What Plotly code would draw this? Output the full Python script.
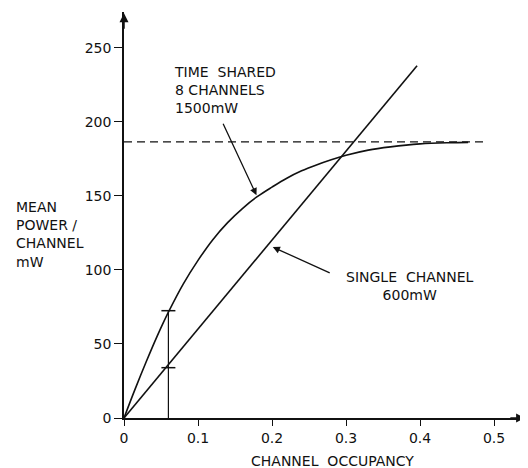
import plotly.graph_objects as go

# ---- data ----
occupancy_shared = [0, 0.015, 0.03, 0.045, 0.06, 0.08, 0.1, 0.12, 0.14, 0.16, 0.18,
                    0.2, 0.22, 0.24, 0.26, 0.28, 0.3, 0.33, 0.36, 0.4, 0.44, 0.465]
power_shared = [0, 19.5, 38, 55.5, 71.5, 90.5, 106.5, 120.5, 132, 141.5, 149.5,
                156, 162, 167, 171, 174.5, 177.5, 181, 183.2, 185.2, 186, 186.2]

occupancy_single = [0, 0.396]
power_single = [0, 238]

saturation_x = [0, 0.488]
saturation_y = [186.5, 186.5]

marker_occupancy = [0.06, 0.06]
marker_power = [72.5, 34]

x_tickvals = [0, 0.1, 0.2, 0.3, 0.4, 0.5]
x_ticktext = ["0", "0.1", "0.2", "0.3", "0.4", "0.5"]
y_tickvals = [0, 50, 100, 150, 200, 250]
y_ticktext = ["0", "50", "100", "150", "200", "250"]

FONT = "DejaVu Sans"
BLACK = "#111111"

fig = go.Figure()

fig.add_trace(go.Scatter(x=saturation_x, y=saturation_y, mode="lines",
                         line=dict(color=BLACK, width=1.2, dash="8px,5px"),
                         hoverinfo="skip"))
fig.add_trace(go.Scatter(x=occupancy_shared, y=power_shared, mode="lines",
                         line=dict(color=BLACK, width=1.6, shape="spline", smoothing=1),
                         hoverinfo="skip"))
fig.add_trace(go.Scatter(x=occupancy_single, y=power_single, mode="lines",
                         line=dict(color=BLACK, width=1.6), hoverinfo="skip"))
fig.add_trace(go.Scatter(x=[marker_occupancy[0], marker_occupancy[0]], y=[0, marker_power[0]],
                         mode="lines", line=dict(color=BLACK, width=1.2), hoverinfo="skip"))
fig.add_trace(go.Scatter(x=marker_occupancy, y=marker_power, mode="markers",
                         marker=dict(symbol="line-ew-open", size=10, color=BLACK,
                                     line=dict(color=BLACK, width=1.5)),
                         hoverinfo="skip"))

annotations = [
    dict(x=0.0649, y=221.6, xref="x", yref="y", xanchor="left", yanchor="middle",
         align="left", showarrow=False,
         text="TIME  SHARED<br>8 CHANNELS<br>1500mW"),
    dict(x=0.179, y=150.5, ax=0.133, ay=199.8, xref="x", yref="y", axref="x", ayref="y",
         showarrow=True, arrowhead=2, arrowsize=1.1, arrowwidth=1.3, arrowcolor=BLACK, text=""),
    dict(x=0.3865, y=89.5, xref="x", yref="y", xanchor="center", yanchor="middle",
         align="center", showarrow=False, text="SINGLE  CHANNEL<br>600mW"),
    dict(x=0.201, y=115.5, ax=0.28, ay=97.6, xref="x", yref="y", axref="x", ayref="y",
         showarrow=True, arrowhead=2, arrowsize=1.1, arrowwidth=1.3, arrowcolor=BLACK, text=""),
    dict(x=-0.2723, y=0.4532, xref="paper", yref="paper", xanchor="left", yanchor="middle",
         align="left", showarrow=False, text="MEAN<br>POWER /<br>CHANNEL<br>mW"),
    dict(x=0.5173, y=-0.1071, xref="paper", yref="paper", xanchor="center", yanchor="middle",
         showarrow=False, text="CHANNEL  OCCUPANCY"),
    # axis arrowheads
    dict(x=0, y=273.5, ax=0, ay=262, xref="x", yref="y", axref="x", ayref="y",
         showarrow=True, arrowhead=2, arrowsize=1.2, arrowwidth=1.5, arrowcolor=BLACK, text=""),
    dict(x=0.542, y=0, ax=0.52, ay=0, xref="x", yref="y", axref="x", ayref="y",
         showarrow=True, arrowhead=2, arrowsize=1.2, arrowwidth=1.5, arrowcolor=BLACK, text=""),
]

# the page body has an 8px margin, so the figure is offset by (8, 8)
fig.update_layout(
    width=520, height=460,
    margin=dict(l=116, r=0, t=4, b=50),
    paper_bgcolor="white", plot_bgcolor="white",
    showlegend=False,
    font=dict(family=FONT, size=14, color=BLACK),
    annotations=annotations,
)
fig.update_xaxes(range=[0, 0.5459], tickvals=x_tickvals, ticktext=x_ticktext,
                 showgrid=False, zeroline=False, showline=True, linecolor=BLACK, linewidth=1.5,
                 ticks="outside", ticklen=6, tickwidth=1.2, tickcolor=BLACK,
                 tickfont=dict(family=FONT, size=14, color=BLACK))
fig.update_yaxes(range=[0, 274.3], tickvals=y_tickvals, ticktext=y_ticktext,
                 showgrid=False, zeroline=False, showline=True, linecolor=BLACK, linewidth=1.5,
                 ticks="outside", ticklen=8, tickwidth=1.2, tickcolor=BLACK,
                 tickfont=dict(family=FONT, size=14, color=BLACK))

fig.write_html("out.html")
